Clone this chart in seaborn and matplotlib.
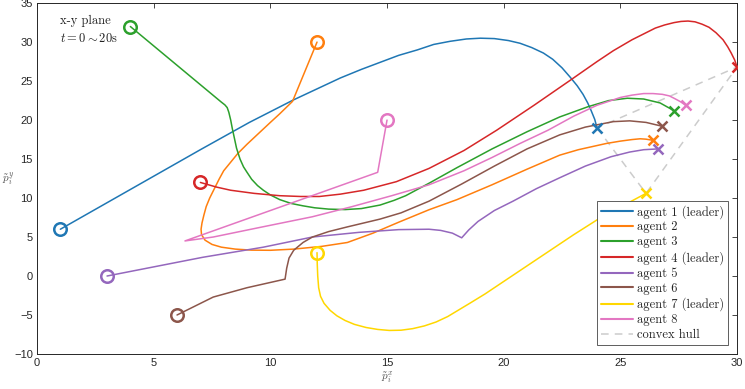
import numpy as np
import pandas as pd
import matplotlib
matplotlib.use("Agg")
import matplotlib.pyplot as plt
import seaborn as sns

sns.set_theme(style="white")
plt.rcParams["mathtext.fontset"] = "cm"
plt.rcParams["font.family"] = ["Liberation Sans", "DejaVu Sans"]

# ── trajectories (x, y waypoints) ────
agent1_x = [1, 4, 7, 9.1, 11, 12, 13, 13.9, 14.7, 15.5, 16.3, 17, 17.7, 18.4, 19, 19.6, 20.2,
            20.7, 21.2, 21.7, 22.1, 22.5, 22.85, 23.15, 23.4, 23.6, 23.75, 23.9, 24]
agent1_y = [6, 11.1, 16.2, 19.7, 22.6, 24.0, 25.4, 26.5, 27.4, 28.3, 29.0, 29.7, 30.1, 30.4, 30.5,
            30.45, 30.2, 29.85, 29.3, 28.6, 27.8, 26.7, 25.5, 24.4, 23.3, 22.2, 21.2, 20.1, 19]

agent2_x = [12, 10.95, 10.4, 10.0, 9.5, 9.0, 8.6, 8.3, 8.0, 7.8, 7.6, 7.4, 7.25, 7.15, 7.07, 7.03,
            7.05, 7.2, 7.5, 7.9, 8.5, 9.2, 10, 11, 12.2, 13.3, 14.4, 15.5, 16.8, 18, 19.5,
            21, 22.4, 23.2, 23.8, 24.4, 25, 25.5, 25.85, 26.1, 26.4]
agent2_y = [30, 22.4, 20.8, 19.7, 18.3, 16.9, 15.7, 14.6, 13.5, 12.4, 11.2, 10.0, 8.9, 7.8, 6.8, 6.0,
            5.3, 4.6, 4.05, 3.7, 3.45, 3.32, 3.3, 3.45, 3.8, 4.3, 5.5, 6.9, 8.5, 9.8, 11.7,
            13.7, 15.5, 16.2, 16.6, 17.0, 17.3, 17.5, 17.6, 17.55, 17.4]

agent3_x = [4, 7.9, 8.05, 8.15, 8.22, 8.3, 8.37, 8.45, 8.55, 8.7, 8.85, 9.0, 9.2, 9.45, 9.7,
            10.0, 10.4, 10.9, 11.4, 11.9, 12.5, 13.2, 13.9, 14.7, 15.3, 15.8, 16.3, 16.8,
            18, 19.5, 21, 22.4, 23.6, 24.5, 25.3, 26, 26.7, 27.3]
agent3_y = [32, 22.3, 21.95, 21.6, 21.0, 20.0, 18.9, 17.8, 16.4, 15.0, 14.0, 13.3, 12.4, 11.6, 11.0,
            10.4, 9.8, 9.3, 9.0, 8.75, 8.58, 8.52, 8.65, 9.1, 9.7, 10.3, 11.1, 11.9,
            13.9, 16.3, 18.5, 20.4, 21.7, 22.5, 22.8, 22.7, 22.2, 21.2]

agent4_x = [7, 7.7, 8.3, 9.3, 10.4, 11.3, 12.1, 13, 14, 15.4, 16.8, 18.3, 19.7, 21.3, 22.85,
            24.0, 24.7, 25.5, 26.1, 26.5, 26.9, 27.3, 27.6, 27.9, 28.2, 28.5, 28.8, 29.1,
            29.4, 29.6, 29.75, 29.9, 30]
agent4_y = [12, 11.4, 11.0, 10.6, 10.3, 10.2, 10.2, 10.5, 11.0, 12.1, 13.8, 16.1, 18.7, 21.9, 25.1,
            27.5, 28.9, 30.3, 31.2, 31.8, 32.2, 32.5, 32.65, 32.7, 32.6, 32.3, 31.9, 31.2,
            30.3, 29.4, 28.6, 27.7, 26.8]

agent5_x = [3, 7.1, 8.3, 9.7, 11.8, 13.8, 15.5, 16.8, 17.3, 17.8, 18.2, 18.5, 18.9, 19.6, 20.4,
            21.4, 22.4, 23.5, 24.6, 25.4, 26.0, 26.6]
agent5_y = [0, 2.4, 3.0, 3.7, 5.0, 5.6, 5.95, 6.0, 5.85, 5.5, 4.9, 5.9, 7.0, 8.4, 9.6,
            11.2, 12.6, 14.1, 15.3, 15.9, 16.2, 16.3]

agent6_x = [6, 7.55, 9.0, 10.63, 10.7, 10.8, 11.0, 11.4, 11.8, 12.5, 13.3, 14.7, 15.6, 16.8,
            18.2, 19.6, 21, 22.4, 23.5, 24.7, 25.4, 26.1, 26.8]
agent6_y = [-5, -2.7, -1.5, -0.4, 1.0, 2.3, 3.3, 4.3, 5.0, 5.7, 6.3, 7.3, 8.1, 9.6,
            11.8, 14.1, 16.3, 18.1, 19.1, 19.8, 19.9, 19.7, 19.2]

agent7_x = [12, 12.01, 12.03, 12.07, 12.15, 12.3, 12.56, 12.85, 13.2, 13.6, 14.1, 14.6, 15.1,
            15.6, 16.1, 16.6, 17.1, 17.6, 18.1, 18.6, 19.2, 19.8, 20.4, 21, 22, 23, 24, 24.6,
            25.1, 25.6, 26.1]
agent7_y = [3, 1.5, 0, -1.5, -2.6, -3.5, -4.4, -5.1, -5.7, -6.2, -6.6, -6.85, -6.98,
            -6.95, -6.75, -6.4, -5.9, -5.2, -4.3, -3.4, -2.3, -1.1, 0.1, 1.3, 3.3, 5.3, 7.2, 8.2,
            9.0, 9.8, 10.6]

agent8_x = [15, 14.6, 6.34, 7.55, 9.5, 11.8, 13.5, 15.2, 16.8, 18.3, 19.5, 20.7, 21.9, 23, 24,
            25, 25.5, 26, 26.4, 26.8, 27.1, 27.3, 27.55, 27.8]
agent8_y = [20, 13.3, 4.5, 5.0, 6.2, 7.6, 8.9, 10.3, 11.7, 13.5, 15.2, 17.0, 18.7, 20.5, 21.9,
            22.9, 23.2, 23.4, 23.4, 23.3, 23.1, 22.8, 22.4, 21.9]

names   = ["agent 1 (leader)", "agent 2", "agent 3", "agent 4 (leader)",
           "agent 5", "agent 6", "agent 7 (leader)", "agent 8"]
xs      = [agent1_x, agent2_x, agent3_x, agent4_x, agent5_x, agent6_x, agent7_x, agent8_x]
ys      = [agent1_y, agent2_y, agent3_y, agent4_y, agent5_y, agent6_y, agent7_y, agent8_y]
colors  = ["#1f77b4", "#ff7f0e", "#2ca02c", "#d62728",
           "#9467bd", "#8c564b", "#ffd700", "#e377c2"]
leaders = [0, 6, 3]

df = pd.concat([pd.DataFrame({"x": x, "y": y, "agent": n, "step": range(len(x))})
                for n, x, y in zip(names, xs, ys)], ignore_index=True)

fig = plt.figure(figsize=(7.45, 3.89), dpi=100)
ax = fig.add_axes([0.0497, 0.09, 0.9396, 0.902])

sns.lineplot(data=df, x="x", y="y", hue="agent", units="agent", estimator=None,
             sort=False, palette=dict(zip(names, colors)), linewidth=1.1,
             legend=False, ax=ax)

handles = []
for n, x, y, c in zip(names, xs, ys, colors):
    ax.plot(x[0], y[0], "o", ms=9, mfc="none", mec=c, mew=1.8, zorder=4)
    ax.plot(x[-1], y[-1], "x", ms=6.5, mec=c, mew=1.8, zorder=4)
    handles.append(plt.Line2D([], [], color=c, lw=1.5, label=n))

hx = [xs[i][-1] for i in leaders] + [xs[leaders[0]][-1]]
hy = [ys[i][-1] for i in leaders] + [ys[leaders[0]][-1]]
ax.plot(hx, hy, ls=(0, (5, 4)), color="#cccccc", lw=1.1, zorder=1)
handles.append(plt.Line2D([], [], ls=(0, (5, 4)), color="#cccccc", lw=1.1,
                          label="convex hull"))

ax.set_xlim(0, 30)
ax.set_ylim(-10, 35)
ax.set_xticks(range(0, 31, 5))
ax.set_yticks(range(-10, 36, 5))
ax.tick_params(direction="in", top=True, right=True, length=3.5, width=0.6,
               labelsize=8, colors="#262626", pad=3)
for s in ax.spines.values():
    s.set_color("#262626"); s.set_linewidth(0.7)

ax.set_xlabel(r"$\tilde{p}_i^x$", fontsize=8, color="#555555", labelpad=1)
ax.set_ylabel(r"$\tilde{p}_i^y$", fontsize=8, color="#555555", rotation=0,
              labelpad=4, va="center")

ax.text(1.0, 32.3, "x-y plane", family="cmr10", fontsize=9, color="#222222")
ax.text(1.0, 30.0, r"$t=0\sim20$s", family="cmr10", fontsize=9, color="#222222")

leg = ax.legend(handles=handles, loc="lower right", bbox_to_anchor=(0.987, 0.026),
                prop={"family": "cmr10", "size": 9}, handlelength=2.6,
                handletextpad=0.3, labelspacing=0.22, borderpad=0.3, borderaxespad=0,
                fancybox=False, framealpha=1, edgecolor="#444444")
leg.get_frame().set_linewidth(0.6)

fig.savefig("out.png", dpi=100)
